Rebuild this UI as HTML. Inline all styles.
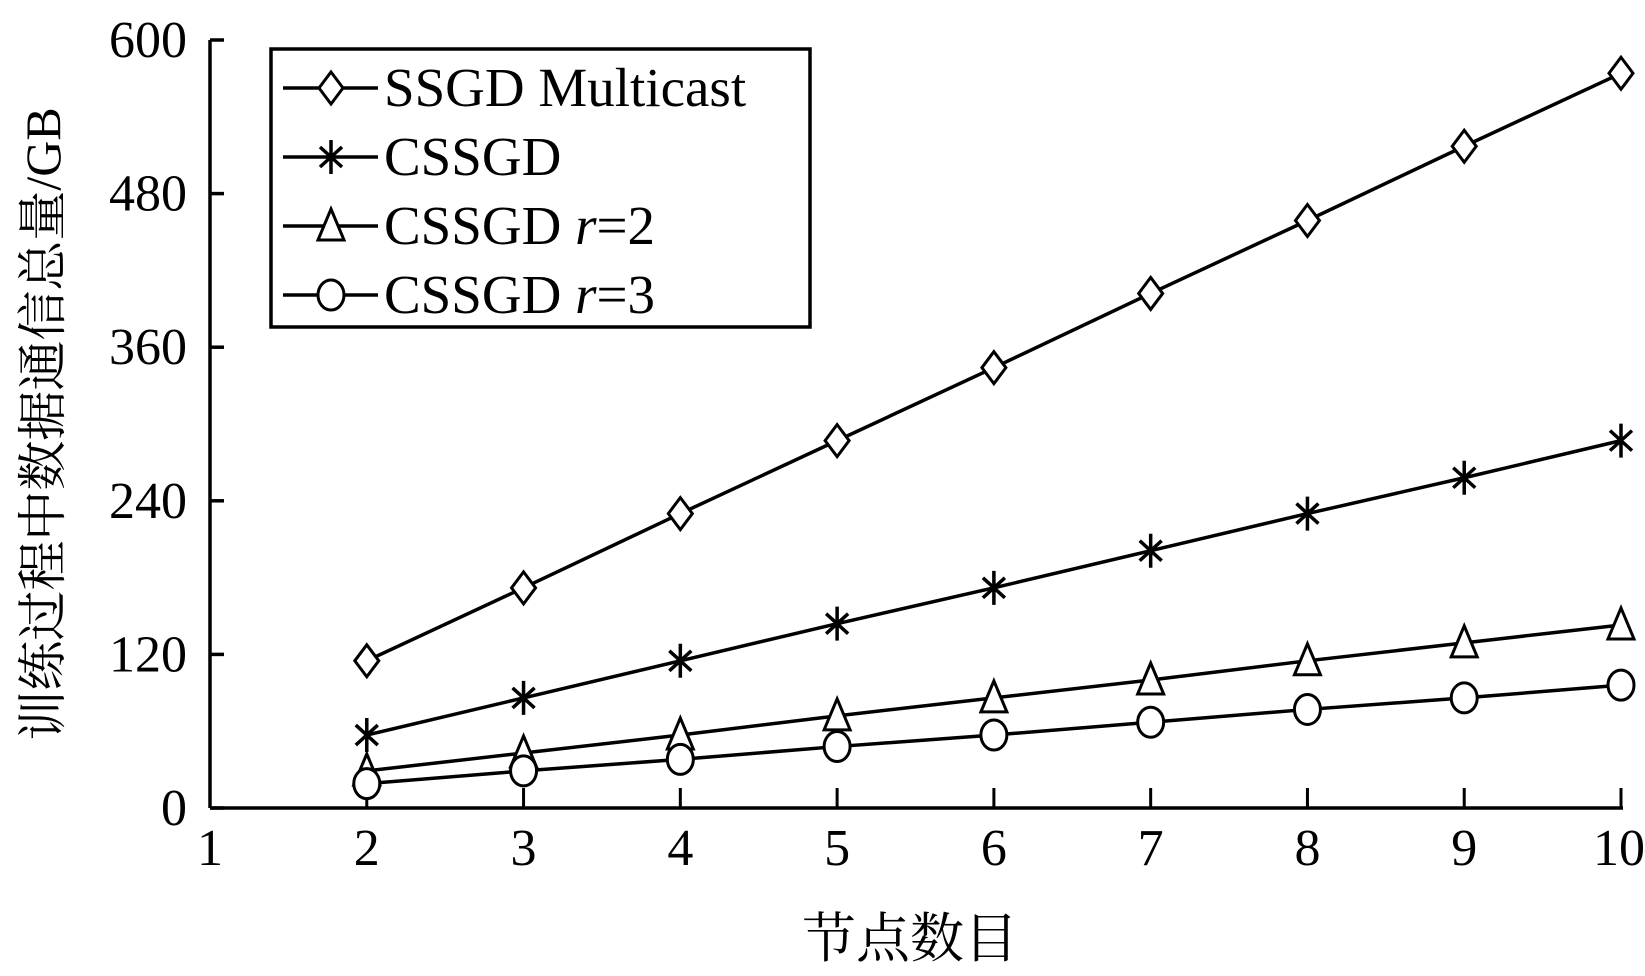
<!DOCTYPE html>
<html><head><meta charset="utf-8"><style>
html,body{margin:0;padding:0;background:#fff;}
svg{display:block;}
text{font-family:"Liberation Serif","Noto Serif CJK SC",serif;fill:#000;}
</style></head><body>
<svg id="chart" width="1645" height="976" viewBox="0 0 1645 976" xmlns="http://www.w3.org/2000/svg">
<g id="axes"></g>
<g id="series"></g>
<g id="legend"></g>
<text transform="translate(60,424) rotate(-90)" text-anchor="middle" font-size="50" font-family="Liberation Serif, Noto Serif CJK SC, serif">训练过程中数据通信总量/GB</text>
<text x="910" y="957" text-anchor="middle" font-size="54" font-family="Liberation Serif, Noto Serif CJK SC, serif">节点数目</text>
</svg>
<script>
const xCategories = [2,3,4,5,6,7,8,9,10];
const xTicks = [1,2,3,4,5,6,7,8,9,10];
const yTicks = [0,120,240,360,480,600];
const ssgdMulticast = [115,172,230,287,344,402,459,517,574];
const cssgd = [57,86,115,144,172,201,230,258,287];
const cssgdR2 = [29,43,57,72,86,100,115,129,143];
const cssgdR3 = [19,29,38,48,57,67,77,86,96];
const seriesNames = ["SSGD Multicast","CSSGD","CSSGD r=2","CSSGD r=3"];

const NS="http://www.w3.org/2000/svg";
const X0=210,X1=1621,Y0=808,Y1=40;
function xs(v){return X0+(v-1)/(10-1)*(X1-X0);}
function ys(v){return Y0-v/600*(Y0-Y1);}
function mk(tag,attrs,parent){const e=document.createElementNS(NS,tag);for(const k in attrs)e.setAttribute(k,attrs[k]);parent.appendChild(e);return e;}
const axes=document.getElementById('axes');
let ax=mk('line',{x1:X0,y1:Y1,x2:X0,y2:Y0,stroke:'#000','stroke-width':3.5},axes);


ax=mk('line',{x1:X0,y1:Y0,x2:X1+2,y2:Y0,stroke:'#000','stroke-width':3.5},axes);


yTicks.forEach(t=>{
  const l=mk('line',{x1:X0,y1:ys(t),x2:X0+14,y2:ys(t),stroke:'#000','stroke-width':3.5},axes);
  
  
  const tx=mk('text',{x:187,y:ys(t)+17,'text-anchor':'end','font-size':52},axes);
  tx.textContent=t;
  
  
});
xTicks.forEach(t=>{
  const l=mk('line',{x1:xs(t),y1:Y0,x2:xs(t),y2:Y0-20,stroke:'#000','stroke-width':3},axes);
  
  
  const tx=mk('text',{x:xs(t)-(t===10?2:0),y:865,'text-anchor':'middle','font-size':52},axes);
  tx.textContent=t;
  
  
});
function marker(type,cx,cy,parent){
  let e;
  const st={fill:'#fff',stroke:'#000','stroke-width':3};
  if(type==='diamond'){e=mk('polygon',Object.assign({points:`${cx},${cy-16} ${cx+12},${cy} ${cx},${cy+16} ${cx-12},${cy}`},st),parent);}
  else if(type==='star'){e=mk('path',{d:`M${cx},${cy-17}V${cy+17}M${cx-11},${cy-10}L${cx+11},${cy+10}M${cx-11},${cy+10}L${cx+11},${cy-10}`,stroke:'#000','stroke-width':3.5,fill:'none'},parent);}
  else if(type==='triangle'){e=mk('polygon',Object.assign({points:`${cx},${cy-17} ${cx+13},${cy+14} ${cx-13},${cy+14}`},st),parent);}
  else {e=mk('ellipse',Object.assign({cx:cx,cy:cy,rx:13,ry:15},st),parent);}
  return e;
}
const sers=[[ssgdMulticast,'diamond'],[cssgd,'star'],[cssgdR2,'triangle'],[cssgdR3,'circle']];
const sg=document.getElementById('series');
sers.forEach(([vals,type],i)=>{
  const g=mk('g',{},sg);
  
  
  const pl=mk('polyline',{points:vals.map((v,j)=>xs(xCategories[j])+','+ys(v)).join(' '),fill:'none',stroke:'#000','stroke-width':3.5},g);
  
  
  vals.forEach((v,j)=>{
    const m=marker(type,xs(xCategories[j]),ys(v),g);
    
    
  });
});
const lg=document.getElementById('legend');
const box=mk('rect',{x:271,y:49,width:539,height:278,fill:'#fff',stroke:'#000','stroke-width':3.5},lg);


const ly=[88,157,226,295];
sers.forEach(([vals,type],i)=>{
  const g=mk('g',{},lg);
  
  
  mk('line',{x1:283,y1:ly[i],x2:378,y2:ly[i],stroke:'#000','stroke-width':3.5},g);
  marker(type,331,ly[i],g);
  const t=mk('text',{x:384,y:ly[i]+18,'font-size':55},g);
  const parts=seriesNames[i].split(' r=');
  if(parts.length>1){
    t.appendChild(document.createTextNode(parts[0]+' '));
    const it=mk('tspan',{'font-style':'italic'},t);it.textContent='r';
    t.appendChild(document.createTextNode('='+parts[1]));
  } else t.textContent=seriesNames[i];
});
</script>
</body></html>
